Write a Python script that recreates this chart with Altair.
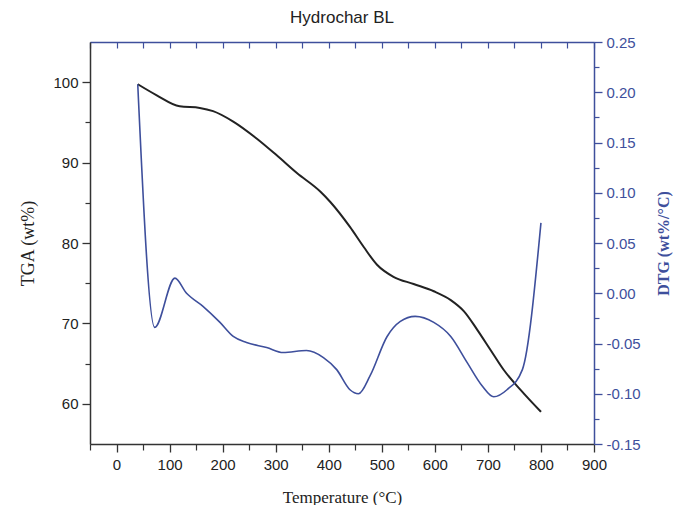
import altair as alt
import pandas as pd

# ---- data ----
temp_tga = [40, 75, 119, 157, 182, 220, 264, 302, 340, 384, 403, 440, 466, 491,
            522, 560, 598, 630, 655, 680, 705, 730, 762, 800]
tga = [99.75, 98.4, 97.0, 96.8, 96.4, 95.1, 93.0, 90.9, 88.7, 86.4, 85.1, 82.0,
       79.5, 77.3, 75.8, 74.9, 74.0, 72.9, 71.5, 69.2, 66.7, 64.2, 61.7, 59.0]

temp_dtg = [40, 72, 110, 132, 163, 195, 220, 245, 283, 314, 358, 390, 415, 440,
            456, 478, 510, 535, 563, 598, 630, 661, 689, 711, 736, 765, 800]
dtg = [0.208, -0.034, 0.015, 0.000, -0.013, -0.029, -0.043, -0.049, -0.054,
       -0.059, -0.057, -0.064, -0.076, -0.096, -0.100, -0.082, -0.043, -0.028,
       -0.023, -0.029, -0.043, -0.069, -0.092, -0.103, -0.096, -0.076, 0.070]

x_major = [0, 100, 200, 300, 400, 500, 600, 700, 800, 900]
x_minor = [-50, 50, 150, 250, 350, 450, 550, 650, 750, 850]
x_all = [-50, 0, 50, 100, 150, 200, 250, 300, 350, 400, 450, 500, 550, 600,
         650, 700, 750, 800, 850, 900]
yl_major = [60, 70, 80, 90, 100]
yl_minor = [65, 75, 85, 95]
yr_major = [-0.15, -0.10, -0.05, 0.00, 0.05, 0.10, 0.15, 0.20, 0.25]
yr_minor = [-0.125, -0.075, -0.025, 0.025, 0.075, 0.125, 0.175, 0.225]

df_tga = pd.DataFrame({"T": temp_tga, "TGA": tga})
df_dtg = pd.DataFrame({"T": temp_dtg, "DTG": dtg})

BLUE = "#3e4f9c"
DARK = "#333333"
SANS = "Liberation Sans"
SERIF = "Liberation Serif"

xs = alt.Scale(domain=[-50, 900], nice=False, zero=False)
yls = alt.Scale(domain=[55, 105], nice=False, zero=False)
yrs = alt.Scale(domain=[-0.15, 0.25], nice=False, zero=False)

# TGA line with bottom and left major axes
tga_line = alt.Chart(df_tga).mark_line(color="#222222", strokeWidth=2, interpolate="monotone").encode(
    x=alt.X("T:Q", scale=xs, axis=alt.Axis(
        orient="bottom", values=x_major, tickSize=8, tickWidth=1.3, tickColor=DARK,
        domainColor=DARK, domainWidth=1.5, labelFont=SANS, labelFontSize=15,
        labelColor="#222222", labelPadding=5, labelFlush=False, grid=False,
        title="Temperature (°C)", titleFont=SERIF, titleFontSize=17,
        titleFontWeight="normal", titleColor="#222222", titlePadding=17)),
    y=alt.Y("TGA:Q", scale=yls, axis=alt.Axis(
        orient="left", values=yl_major, tickSize=8, tickWidth=1.3, tickColor=DARK,
        domainColor=DARK, domainWidth=1.5, labelFont=SANS, labelFontSize=15,
        labelColor="#222222", labelPadding=4, labelFlush=False, grid=False,
        title="TGA (wt%)", titleFont=SERIF, titleFontSize=18,
        titleFontWeight="normal", titleColor="#222222", titlePadding=15)),
)

# invisible layer carrying the minor ticks of bottom and left axes
tga_minor = alt.Chart(df_tga).mark_line(opacity=0).encode(
    x=alt.X("T:Q", scale=xs, axis=alt.Axis(
        orient="bottom", values=x_minor, tickSize=6, tickWidth=1.2, tickColor=DARK,
        domain=False, labels=False, grid=False, title=None)),
    y=alt.Y("TGA:Q", scale=yls, axis=alt.Axis(
        orient="left", values=yl_minor, tickSize=5, tickWidth=1.2, tickColor=DARK,
        domain=False, labels=False, grid=False, title=None)),
)

# DTG line with top domain and right major axis
dtg_line = alt.Chart(df_dtg).mark_line(color=BLUE, strokeWidth=1.6, interpolate="monotone").encode(
    x=alt.X("T:Q", scale=xs, axis=alt.Axis(
        orient="top", ticks=False, labels=False, domainColor=BLUE, domainWidth=1.5,
        grid=False, title=None)),
    y=alt.Y("DTG:Q", scale=yrs, axis=alt.Axis(
        orient="right", values=yr_major,
        labelExpr="(datum.value < -0.0001 ? '-' : '') + format(abs(datum.value), '.2f')",
        tickSize=8, tickWidth=1.3,
        tickColor=BLUE, domainColor=BLUE, domainWidth=1.5, labelFont=SANS,
        labelFontSize=15, labelColor=BLUE, labelPadding=4, labelFlush=False,
        grid=False, title="DTG (wt%/°C)", titleFont=SERIF, titleFontSize=16,
        titleFontWeight="bold", titleColor=BLUE, titleAngle=270, titlePadding=31)),
)

# invisible layer carrying inward top ticks and right minor ticks
dtg_minor = alt.Chart(df_dtg).mark_line(opacity=0).encode(
    x=alt.X("T:Q", scale=xs, axis=alt.Axis(
        orient="top", offset=-6, values=x_all, tickSize=6, tickWidth=1.2,
        tickColor=BLUE, domain=False, labels=False, grid=False, title=None)),
    y=alt.Y("DTG:Q", scale=yrs, axis=alt.Axis(
        orient="right", values=yr_minor, tickSize=5, tickWidth=1.2, tickColor=BLUE,
        domain=False, labels=False, grid=False, title=None)),
)

chart = alt.layer(tga_line, tga_minor, dtg_line, dtg_minor).resolve_scale(
    y="independent"
).resolve_axis(
    x="independent", y="independent"
).properties(
    width=504,
    height=402,
    title=alt.TitleParams("Hydrochar BL", font=SANS, fontSize=17, fontWeight="normal",
                          color="#222222", anchor="middle", offset=8),
    autosize=alt.AutoSizeParams(type="none"),
    padding={"left": 82, "top": 34, "right": 79, "bottom": 61},
).configure_view(stroke=None).configure(background="white")

chart.save("out.html", embed_options={"renderer": "svg", "actions": False})
